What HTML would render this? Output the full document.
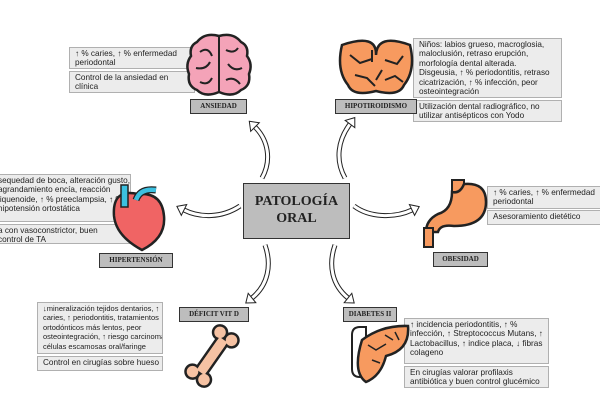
<!DOCTYPE html>
<html><head><meta charset="utf-8"><style>
body{margin:0;width:600px;height:400px;background:#fff;position:relative;overflow:hidden;font-family:"Liberation Sans",sans-serif}
.t{position:absolute;background:#ececec;border:1px solid #b0b0b0;font-size:8.2px;line-height:9.4px;color:#222;padding:1px 5px;box-sizing:border-box;white-space:nowrap;overflow:hidden}
.l{position:absolute;background:#bdbdbd;border:1.5px solid #333;font-family:"Liberation Serif",serif;font-weight:bold;font-size:7px;text-align:center;box-sizing:border-box;color:#222;line-height:12px}
svg{position:absolute;left:0;top:0}
</style></head><body>
<svg width="600" height="400">
<g fill="none">
<path d="M262,178 C272,160 268,140 255,127" stroke="#222" stroke-width="5"/><path d="M262,178 C272,160 268,140 255,127" stroke="#fff" stroke-width="3"/>
<path d="M345,178 C335,160 338,140 350,124" stroke="#222" stroke-width="5"/><path d="M345,178 C335,160 338,140 350,124" stroke="#fff" stroke-width="3"/>
<path d="M240,206 C222,218 200,218 184,210" stroke="#222" stroke-width="5"/><path d="M240,206 C222,218 200,218 184,210" stroke="#fff" stroke-width="3"/>
<path d="M354,206 C370,218 395,218 412,210" stroke="#222" stroke-width="5"/><path d="M354,206 C370,218 395,218 412,210" stroke="#fff" stroke-width="3"/>
<path d="M265,245 C272,265 268,285 252,298" stroke="#222" stroke-width="5"/><path d="M265,245 C272,265 268,285 252,298" stroke="#fff" stroke-width="3"/>
<path d="M335,245 C328,265 332,285 348,298" stroke="#222" stroke-width="5"/><path d="M335,245 C328,265 332,285 348,298" stroke="#fff" stroke-width="3"/>
</g>
<g fill="#fff" stroke="#222" stroke-width="1">
<polygon points="249.3,121.3 259.3,122.7 250.7,131.3"/>
<polygon points="354.8,117.6 354.8,127.6 345.2,120.4"/>
<polygon points="176.9,206.4 186.7,204.6 181.3,215.4"/>
<polygon points="419.2,206.6 414.6,215.4 409.4,204.6"/>
<polygon points="245.8,303 255.8,302.7 248.2,293.3"/>
<polygon points="354.2,303 344.2,302.7 351.8,293.3"/>
</g>
</svg>

<div style="position:absolute;left:243px;top:183px;width:107px;height:56px;background:#bdbdbd;border:1.5px solid #333;box-sizing:border-box;font-family:'Liberation Serif',serif;font-weight:bold;font-size:14px;line-height:17px;text-align:center;padding-top:9px;color:#222">PATOLOGÍA<br>ORAL</div>

<div class="t" style="left:69px;top:47px;width:126px;height:22px">↑ % caries, ↑ % enfermedad<br>periodontal</div>
<div class="t" style="left:69px;top:71px;width:126px;height:22px">Control de la ansiedad en<br>clínica</div>

<div class="t" style="left:413px;top:38px;width:149px;height:60px">Niños: labios grueso, macroglosia,<br>maloclusión, retraso erupción,<br>morfología dental alterada.<br>Disgeusia, ↑ % periodontitis, retraso<br>cicatrización, ↑ % infección, peor<br>osteointegración</div>
<div class="t" style="left:413px;top:100px;width:149px;height:22px">Utilización dental radiográfico, no<br>utilizar antisépticos con Yodo</div>

<div class="t" style="left:-8px;top:174px;width:139px;height:48px">sequedad de boca, alteración gusto,<br>agrandamiento encía, reacción<br>liquenoide, ↑ % preeclampsia, ↑ %<br>hipotensión ortostática</div>
<div class="t" style="left:-8px;top:224px;width:139px;height:20px">a con vasoconstrictor, buen<br>control de TA</div>

<div class="t" style="left:487px;top:186px;width:120px;height:23px">↑ % caries, ↑ % enfermedad<br>periodontal</div>
<div class="t" style="left:487px;top:210px;width:120px;height:15px">Asesoramiento dietético</div>

<div class="t" style="left:37px;top:302px;width:126px;height:52px;font-size:7.5px">↓mineralización tejidos dentarios, ↑<br>caries, ↑ periodontitis, tratamientos<br>ortodónticos más lentos, peor<br>osteointegración, ↑ riesgo carcinoma<br>células escamosas oral/faringe</div>
<div class="t" style="left:37px;top:356px;width:126px;height:15px">Control en cirugías sobre hueso</div>

<div class="t" style="left:404px;top:318px;width:145px;height:46px">↑ incidencia periodontitis, ↑ %<br>infección, ↑ Streptococcus Mutans, ↑<br>Lactobacillus, ↑ indice placa, ↓ fibras<br>colageno</div>
<div class="t" style="left:404px;top:366px;width:145px;height:22px">En cirugías valorar profilaxis<br>antibiótica y buen control glucémico</div>

<svg width="600" height="400">
<path d="M219,36 q-14,-4 -22,6 q-8,4 -6,14 q-6,8 -2,18 q-2,12 8,16 q8,8 22,2 q14,6 22,-2 q10,-4 8,-16 q4,-10 -2,-18 q2,-10 -6,-14 q-8,-10 -22,-6z" fill="#f4a3b8" stroke="#222" stroke-width="2.5"/>
<line x1="219" y1="37" x2="219" y2="92" stroke="#222" stroke-width="2"/>
<path d="M200,52 q8,-6 12,4 M226,50 q8,4 12,-2 M196,68 q10,2 14,-6 M228,64 q6,8 14,4 M200,82 q8,4 12,-4 M226,80 q8,-4 14,4" stroke="#222" stroke-width="2" fill="none"/>
<path d="M342,45 q35,-12 34,10 q1,-22 34,-10 q6,25 -6,40 q-5,12 -28,6 q-23,6 -28,-6 q-12,-15 -6,-40z" fill="#f79a5f" stroke="#222" stroke-width="2.5"/>
<path d="M350,55 l10,8 l12,-4 M385,60 l12,4 l6,-8 M355,75 l12,3 l8,8 M385,80 l10,-4 l8,6 M372,50 l0,12 M382,70 l-6,10" stroke="#222" stroke-width="2" fill="none"/>
<path d="M138,194 q-26,-6 -24,22 q2,20 28,34 q24,-12 22,-34 q-2,-24 -26,-22z" fill="#f06464" stroke="#222" stroke-width="2.5"/>
<rect x="121" y="185" width="7" height="22" fill="#3cc0e0" stroke="#222" stroke-width="1.5"/>
<path d="M136,200 q4,-12 20,-10" stroke="#222" stroke-width="7" fill="none"/>
<path d="M136,200 q4,-12 20,-10" stroke="#3cc0e0" stroke-width="4.5" fill="none"/>
<rect x="452" y="180" width="12" height="12" fill="#f79a5f" stroke="#222" stroke-width="2"/>
<path d="M452,192 q0,18 -14,22 q-12,6 -12,18 l12,0 q2,-8 16,-6 q32,0 32,-24 q0,-20 -22,-18 q-4,10 -12,8z" fill="#f79a5f" stroke="#222" stroke-width="2.5"/>
<rect x="424" y="228" width="9" height="19" fill="#f79a5f" stroke="#222" stroke-width="2"/>
<g transform="translate(212,356) rotate(-55)">
<rect x="-22" y="-6" width="44" height="12" fill="#f6c2a3" stroke="#222" stroke-width="2.5"/>
<circle cx="-24" cy="-7" r="7" fill="#f6c2a3" stroke="#222" stroke-width="2.5"/>
<circle cx="-24" cy="7" r="7" fill="#f6c2a3" stroke="#222" stroke-width="2.5"/>
<circle cx="24" cy="-7" r="7" fill="#f6c2a3" stroke="#222" stroke-width="2.5"/>
<circle cx="24" cy="7" r="7" fill="#f6c2a3" stroke="#222" stroke-width="2.5"/>
<rect x="-20" y="-4.7" width="40" height="9.4" fill="#f6c2a3"/>
</g>
<path d="M352,335 q0,-8 8,-8 l6,0 l0,50 l-6,0 q-8,0 -8,-8z" fill="#fff" stroke="#222" stroke-width="2"/>
<path d="M362,340 q20,-15 46,-14 q2,24 -22,30 q-5,20 -20,26 q-14,-10 -4,-42z" fill="#f79a5f" stroke="#222" stroke-width="2.5"/>
<path d="M368,345 l8,5 l10,-6 M372,360 l8,3 M385,335 l8,5 M395,332 l4,8" stroke="#222" stroke-width="1.5" fill="none"/>
</svg>

<div class="l" style="left:190px;top:99px;width:57px;height:15px">ANSIEDAD</div>
<div class="l" style="left:335px;top:99px;width:82px;height:15px">HIPOTIROIDISMO</div>
<div class="l" style="left:99px;top:253px;width:74px;height:15px">HIPERTENSIÓN</div>
<div class="l" style="left:433px;top:252px;width:55px;height:15px">OBESIDAD</div>
<div class="l" style="left:179px;top:307px;width:70px;height:15px">DÉFICIT VIT D</div>
<div class="l" style="left:343px;top:307px;width:54px;height:15px">DIABETES II</div>
</body></html>
